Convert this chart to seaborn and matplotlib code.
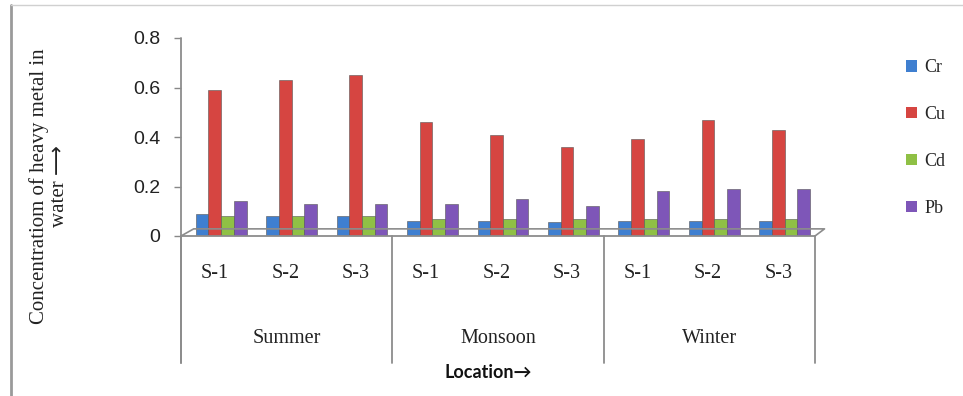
import matplotlib
matplotlib.use("Agg")
import matplotlib.pyplot as plt
from matplotlib.lines import Line2D
from matplotlib.patches import Patch
import seaborn as sns
import pandas as pd

# Heavy metal concentration in water by season and sampling site
seasons = ["Summer", "Monsoon", "Winter"]
sites = ["S-1", "S-2", "S-3"]
metals = ["Cr", "Cu", "Cd", "Pb"]

cr = [0.09, 0.08, 0.08, 0.06, 0.06, 0.055, 0.06, 0.06, 0.06]
cu = [0.59, 0.63, 0.65, 0.46, 0.41, 0.36, 0.39, 0.47, 0.43]
cd = [0.08, 0.08, 0.08, 0.07, 0.07, 0.07, 0.07, 0.07, 0.07]
pb = [0.14, 0.13, 0.13, 0.13, 0.15, 0.12, 0.18, 0.19, 0.19]

colors = ["#3f7fd0", "#d64541", "#8fc045", "#7e56b8"]

rows = []
n_loc = len(seasons) * len(sites)
for i in range(n_loc):
    for m, vals in zip(metals, [cr, cu, cd, pb]):
        rows.append({"loc": i, "metal": m, "value": vals[i]})
df = pd.DataFrame(rows)

sns.set_theme(style="white")
plt.rcParams["font.family"] = ["Liberation Serif", "DejaVu Serif"]

W, H = 963, 396
fig = plt.figure(figsize=(W / 100, H / 100), dpi=100)
x0, x1, y0, y1 = 181, 815, 236, 38
ax = fig.add_axes([x0 / W, (H - y0) / H, (x1 - x0) / W, (y0 - y1) / H])

sns.barplot(data=df, x="loc", y="value", hue="metal", hue_order=metals,
            palette=colors, width=0.72, dodge=True, saturation=1,
            edgecolor="#555555", linewidth=0.4, legend=False, ax=ax)

# pseudo-3D look: bars stand slightly back/right on the floor
for p in ax.patches:
    p.set_x(p.get_x() + 0.07)

ax.set_ylim(0, 0.8)
ax.set_xlim(-0.5, n_loc - 0.5)
ax.set_yticks([0, 0.2, 0.4, 0.6, 0.8])
ax.set_yticklabels(["0", "0.2", "0.4", "0.6", "0.8"],
                   family=["Liberation Sans", "DejaVu Sans"], fontsize=14,
                   color="#222222")
ax.tick_params(axis="y", length=5, width=1, color="#888888", left=True,
               direction="out", pad=10)
ax.set_xticks([])
ax.set_xlabel("")
ax.set_ylabel("")
for s in ax.spines.values():
    s.set_visible(False)

gray = "#8c8c8c"
# vertical value axis extending into the category label area
ax.plot([0, 0], [-0.64, 1.0], transform=ax.transAxes, color=gray, lw=1.3,
        clip_on=False)
# floor of the plot area
ax.plot([0, 1], [0, 0], transform=ax.transAxes, color=gray, lw=1.3, clip_on=False)
ax.plot([0.0, 0.02, 1.015, 1.0], [0, 0.036, 0.036, 0], transform=ax.transAxes,
        color=gray, lw=1.2, clip_on=False)

trans = ax.get_xaxis_transform()
# group separators
for g in range(len(seasons) + 1):
    xs = g * len(sites) - 0.5
    ax.plot([xs, xs], [0, -0.64], transform=trans, color=gray, lw=1.3,
            clip_on=False)

for i in range(n_loc):
    ax.text(i - 0.02, -0.19, sites[i % len(sites)], transform=trans,
            ha="center", va="center", fontsize=14.5, color="#222222")
for g, s in enumerate(seasons):
    ax.text(g * len(sites) + 1, -0.52, s, transform=trans,
            ha="center", va="center", fontsize=14.5, color="#222222")

fig.text(488 / W, 1 - 373 / H, "Location→",
         family=["Lato", "DejaVu Sans"], fontweight="bold",
         fontsize=13, ha="center", va="center", color="#111111")

fig.text(49 / W, 1 - 186 / H, "Concentratiom of heavy metal in\nwater ⟶",
         rotation=90, ha="center", va="center", fontsize=15,
         family=["Liberation Serif", "DejaVu Sans"], color="#222222",
         multialignment="center", linespacing=1.05)

handles = [Patch(facecolor=c, edgecolor="none") for c in colors]
fig.legend(handles, metals, loc="upper left", bbox_to_anchor=(899 / W, 1 - 52 / H),
           frameon=False, fontsize=13, handlelength=0.6, handleheight=0.6,
           handletextpad=0.4, labelspacing=1.65, borderaxespad=0)

# outer frame lines
fig.add_artist(Line2D([11 / W, 11 / W], [0, 1 - 5 / H], color="#9a9a9a", lw=2))
fig.add_artist(Line2D([11 / W, 1], [1 - 5 / H, 1 - 5 / H], color="#d0d0d0", lw=1))

fig.savefig("out.png", dpi=100, facecolor="white")
